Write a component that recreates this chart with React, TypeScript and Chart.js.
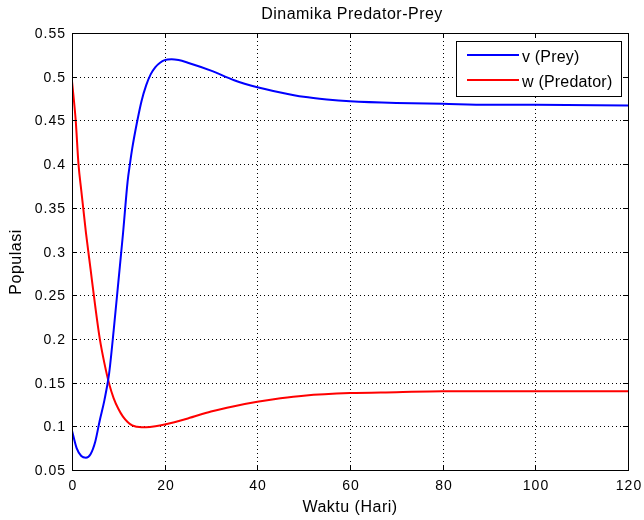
import React, { useEffect, useRef } from "react";
import { Chart, registerables } from "chart.js";

Chart.register(...registerables);

const titleText = "Dinamika Predator-Prey";
const xTitle = "Waktu (Hari)";
const yTitle = "Populasi";
const preyLabel = "v (Prey)";
const predLabel = "w (Predator)";

const preyT = [0, 1, 2, 3, 4, 5, 6, 7, 8, 9, 10, 11, 12, 12.5, 13, 14, 15, 16, 17, 18, 19, 20, 21.5, 23, 25, 30, 35, 40, 45, 50, 55, 60, 70, 80, 90, 100, 120];
const preyV = [0.095, 0.075, 0.066, 0.064, 0.068, 0.082, 0.107, 0.13, 0.16, 0.21, 0.265, 0.32, 0.38, 0.4, 0.418, 0.447, 0.472, 0.49, 0.503, 0.511, 0.516, 0.519, 0.52, 0.519, 0.516, 0.507, 0.496, 0.488, 0.482, 0.477, 0.474, 0.472, 0.47, 0.469, 0.468, 0.468, 0.467];

const predT = [0, 0.8, 1.4, 2, 3, 4, 5, 6, 7, 8, 9, 10, 11, 12, 13, 14, 15, 16, 18, 20, 25, 30, 35, 40, 45, 50, 60, 70, 80, 100, 120];
const predV = [0.495, 0.45, 0.4, 0.37, 0.322, 0.28, 0.238, 0.2, 0.172, 0.149, 0.132, 0.12, 0.111, 0.105, 0.101, 0.0995, 0.099, 0.099, 0.1, 0.102, 0.109, 0.117, 0.123, 0.128, 0.132, 0.135, 0.138, 0.139, 0.14, 0.14, 0.14];

const FONT = "'Liberation Sans', Arial, sans-serif";

const fmt = (v: number) => String(parseFloat(Number(v).toFixed(2)));

const framePlugin = {
  id: "matlabFrame",
  beforeDatasetsDraw(chart: any) {
    const { ctx, chartArea, scales } = chart;
    const { left, right, top, bottom } = chartArea;
    ctx.save();
    ctx.strokeStyle = "#000";
    ctx.lineWidth = 1;
    ctx.setLineDash([1, 3]);
    scales.x.ticks.forEach((t: any) => {
      const px = Math.round(scales.x.getPixelForValue(t.value)) + 0.5;
      ctx.beginPath();
      ctx.moveTo(px, top);
      ctx.lineTo(px, bottom);
      ctx.stroke();
    });
    scales.y.ticks.forEach((t: any) => {
      const py = Math.round(scales.y.getPixelForValue(t.value)) + 0.5;
      ctx.beginPath();
      ctx.moveTo(left, py);
      ctx.lineTo(right, py);
      ctx.stroke();
    });
    ctx.restore();
  },
  afterDatasetsDraw(chart: any) {
    const { ctx, chartArea, scales } = chart;
    const { left, right, top, bottom } = chartArea;
    ctx.save();
    ctx.strokeStyle = "#000";
    ctx.lineWidth = 1;
    ctx.setLineDash([]);
    ctx.strokeRect(Math.round(left) + 0.5, Math.round(top) + 0.5, Math.round(right - left), Math.round(bottom - top));
    const tl = 5;
    ctx.fillStyle = "#000";
    (ctx as any).letterSpacing = "1px";
    ctx.font = `14px ${FONT}`;
    scales.x.ticks.forEach((t: any) => {
      const px = Math.round(scales.x.getPixelForValue(t.value)) + 0.5;
      ctx.beginPath();
      ctx.moveTo(px, bottom);
      ctx.lineTo(px, bottom - tl);
      ctx.moveTo(px, top);
      ctx.lineTo(px, top + tl);
      ctx.stroke();
      ctx.textAlign = "center";
      ctx.textBaseline = "alphabetic";
      ctx.fillText(fmt(t.value), px + 0.5, bottom + 20);
    });
    scales.y.ticks.forEach((t: any) => {
      const py = Math.round(scales.y.getPixelForValue(t.value)) + 0.5;
      ctx.beginPath();
      ctx.moveTo(left, py);
      ctx.lineTo(left + tl, py);
      ctx.moveTo(right, py);
      ctx.lineTo(right - tl, py);
      ctx.stroke();
      ctx.textAlign = "right";
      ctx.textBaseline = "alphabetic";
      ctx.fillText(fmt(t.value), left - 6, py + 4);
    });
    // titles
    (ctx as any).letterSpacing = "0.5px";
    ctx.font = `16px ${FONT}`;
    ctx.textAlign = "center";
    ctx.textBaseline = "alphabetic";
    ctx.fillText(titleText, (left + right) / 2 + 2, 19);
    ctx.fillText(xTitle, (left + right) / 2, 512);
    ctx.save();
    ctx.translate(21, 262);
    ctx.rotate(-Math.PI / 2);
    ctx.fillText(yTitle, 0, 0);
    ctx.restore();
    // legend
    const bx = 456.5, by = 41.5, bw = 165, bh = 55;
    ctx.fillStyle = "#fff";
    ctx.fillRect(bx, by, bw, bh);
    ctx.strokeStyle = "#000";
    ctx.lineWidth = 1;
    ctx.strokeRect(bx, by, bw, bh);
    const items = [
      { label: preyLabel, color: "#0000ff", y: 55 },
      { label: predLabel, color: "#ff0000", y: 80 },
    ];
    (ctx as any).letterSpacing = "0.2px";
    items.forEach((it) => {
      ctx.strokeStyle = it.color;
      ctx.lineWidth = 2;
      ctx.beginPath();
      ctx.moveTo(467, it.y);
      ctx.lineTo(519, it.y);
      ctx.stroke();
      ctx.fillStyle = "#000";
      ctx.textAlign = "left";
      ctx.textBaseline = "alphabetic";
      ctx.fillText(it.label, 522, it.y + 7);
    });
    ctx.restore();
  },
};

export default function App() {
  const ref = useRef<HTMLCanvasElement | null>(null);
  useEffect(() => {
    if (!ref.current) return;
    const chart = new Chart(ref.current, {
      type: "line",
      data: {
        datasets: [
          {
            label: preyLabel,
            data: preyT.map((t, i) => ({ x: t, y: preyV[i] })),
            borderColor: "#0000ff",
            borderWidth: 2,
            pointRadius: 0,
            cubicInterpolationMode: "monotone",
            fill: false,
          },
          {
            label: predLabel,
            data: predT.map((t, i) => ({ x: t, y: predV[i] })),
            borderColor: "#ff0000",
            borderWidth: 2,
            pointRadius: 0,
            cubicInterpolationMode: "monotone",
            fill: false,
          },
        ],
      },
      options: {
        animation: false,
        responsive: false,
        layout: { padding: { top: 33, right: 16, left: 0, bottom: 0 } },
        plugins: { legend: { display: false }, tooltip: { enabled: false }, title: { display: false } },
        scales: {
          x: {
            type: "linear",
            min: 0,
            max: 120,
            grid: { display: false },
            border: { display: false },
            ticks: { stepSize: 20, display: false },
            afterFit: (s: any) => { s.height = 50; },
          },
          y: {
            type: "linear",
            min: 0.05,
            max: 0.55,
            grid: { display: false },
            border: { display: false },
            ticks: { stepSize: 0.05, display: false },
            afterFit: (s: any) => { s.width = 72; },
          },
        },
      },
      plugins: [framePlugin],
    } as any);
    return () => chart.destroy();
  }, []);
  return (
    <div style={{ position: "absolute", left: 0, top: 0, width: 644, height: 520, background: "#fff" }}>
      <canvas ref={ref} width={644} height={520} />
    </div>
  );
}
